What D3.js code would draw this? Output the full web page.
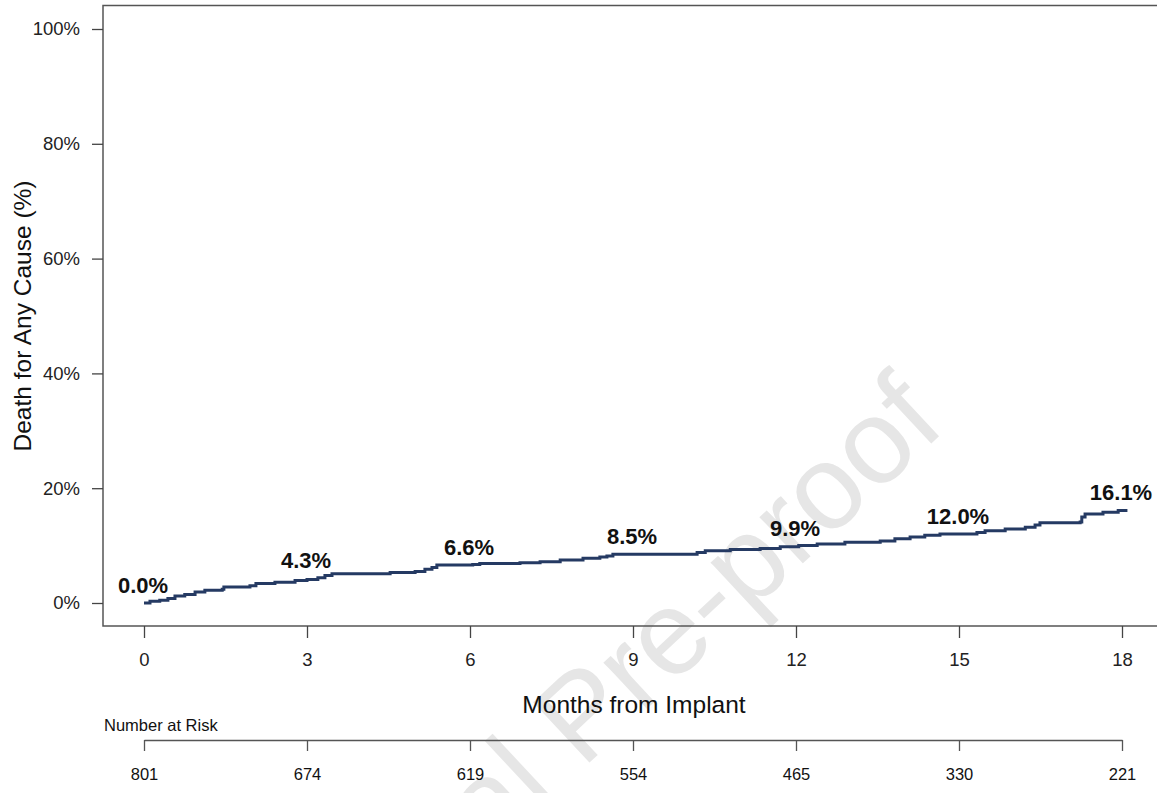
<!DOCTYPE html>
<html lang="en">
<head>
<meta charset="UTF-8">
<title>Death for Any Cause</title>
<script src="https://d3js.org/d3.v7.min.js"></script>
<style>
  body { margin: 0; background: #fff; }
  text { font-family: "Liberation Sans", Arial, sans-serif; }
</style>
</head>
<body>
<script>
// step curve (months, cumulative %)
var stepMonths = [0, 0.11, 0.29, 0.44, 0.57, 0.75, 0.94, 1.12, 1.44, 1.47, 1.95, 2.06, 2.41, 2.78, 3.0, 3.2, 3.33, 3.46,
  4.53, 4.99, 5.17, 5.3, 5.39, 6.05, 6.18, 6.92, 7.29, 7.66, 8.08, 8.39, 8.52, 8.63, 10.18, 10.33, 10.79, 11.34, 11.71,
  12.05, 12.39, 12.9, 13.55, 13.82, 14.1, 14.37, 14.65, 15.33, 15.48, 15.85, 16.22, 16.4, 16.49, 17.23, 17.26, 17.32,
  17.65, 17.93, 18.1];
var stepValues = [0, 0.3, 0.5, 0.8, 1.2, 1.5, 1.9, 2.2, 2.4, 2.8, 3.0, 3.4, 3.6, 3.9, 4.1, 4.4, 4.8, 5.1,
  5.3, 5.5, 5.9, 6.2, 6.6, 6.7, 6.9, 7.0, 7.2, 7.5, 7.8, 8.0, 8.2, 8.5, 8.8, 9.1, 9.3, 9.5, 9.8,
  10.0, 10.3, 10.6, 10.8, 11.2, 11.5, 11.8, 12.0, 12.3, 12.6, 12.9, 13.2, 13.6, 14.0, 14.1, 15.0, 15.5,
  15.8, 16.1, 16.1];

var labelMonths = [0, 3, 6, 9, 12, 15, 18];
var labelValues = [0.0, 4.3, 6.6, 8.5, 9.9, 12.0, 16.1];

var xTicks = [0, 3, 6, 9, 12, 15, 18];
var yTicks = [0, 20, 40, 60, 80, 100];

var riskMonths = [0, 3, 6, 9, 12, 15, 18];
var riskCounts = [801, 674, 619, 554, 465, 330, 221];

var W = 1157, H = 793;
var svg = d3.select("body").append("svg").attr("width", W).attr("height", H);

var x = d3.scaleLinear().domain([0, 18]).range([144, 1122]);
var y = d3.scaleLinear().domain([0, 100]).range([603, 29]);

// watermark
svg.append("text")
  .attr("transform", "translate(948,428) rotate(-43)")
  .attr("text-anchor", "end")
  .attr("font-size", 120)
  .style("fill", "#e6e6e6")
  .text("Journal Pre-proof");

// plot box (right edge runs off the picture)
svg.append("rect")
  .attr("x", 103).attr("y", 5.5)
  .attr("width", 1080).attr("height", 620.5)
  .style("fill", "none").style("stroke", "#555").style("stroke-width", 1.5);

// y axis
var yAxis = svg.append("g").attr("transform", "translate(103,0)")
  .call(d3.axisLeft(y).tickValues(yTicks).tickSize(11).tickPadding(12).tickFormat(function(d){ return d + "%"; }));
yAxis.select(".domain").remove();
yAxis.selectAll("line").style("stroke", "#444").style("stroke-width", 1.3);
yAxis.selectAll("text").attr("font-size", 18.5).style("fill", "#222").style("font-family", "'Liberation Sans', Arial, sans-serif");

// x axis
var xAxis = svg.append("g").attr("transform", "translate(0,626)")
  .call(d3.axisBottom(x).tickValues(xTicks).tickSize(12).tickPadding(15));
xAxis.select(".domain").remove();
xAxis.selectAll("line").style("stroke", "#444").style("stroke-width", 1.3);
xAxis.selectAll("text").attr("font-size", 18.5).style("fill", "#222").style("font-family", "'Liberation Sans', Arial, sans-serif");

// axis titles
svg.append("text")
  .attr("transform", "translate(31,316) rotate(-90)")
  .attr("text-anchor", "middle")
  .attr("font-size", 24.5)
  .style("fill", "#111")
  .text("Death for Any Cause (%)");

svg.append("text")
  .attr("x", 634).attr("y", 713)
  .attr("text-anchor", "middle")
  .attr("font-size", 24.5)
  .style("fill", "#111")
  .text("Months from Implant");

// curve
var pts = stepMonths.map(function(m, i){ return [m, stepValues[i]]; });
var line = d3.line()
  .x(function(d){ return x(d[0]); })
  .y(function(d){ return y(d[1]); })
  .curve(d3.curveStepAfter);
svg.append("path")
  .datum(pts)
  .attr("d", line)
  .style("fill", "none")
  .style("stroke", "#253a63")
  .style("stroke-width", 3);

// value labels
svg.selectAll(".vlab").data(labelMonths).enter()
  .append("text")
  .attr("class", "vlab")
  .attr("x", function(d){ return x(d) - 1; })
  .attr("y", function(d, i){ return y(labelValues[i]) - 10.5; })
  .attr("text-anchor", "middle")
  .attr("font-size", 22)
  .attr("font-weight", "bold")
  .style("fill", "#111")
  .text(function(d, i){ return labelValues[i].toFixed(1) + "%"; });

// number at risk
svg.append("text")
  .attr("x", 104).attr("y", 731)
  .attr("font-size", 16.5)
  .style("fill", "#111")
  .text("Number at Risk");

var rAxis = svg.append("g").attr("transform", "translate(0,740)")
  .call(d3.axisBottom(x).tickValues(riskMonths).tickSize(11).tickSizeOuter(0).tickPadding(17)
    .tickFormat(function(d, i){ return riskCounts[i]; }));
rAxis.select(".domain").style("stroke", "#555").style("stroke-width", 1.5);
rAxis.selectAll("line").style("stroke", "#555").style("stroke-width", 1.3);
rAxis.selectAll("text").attr("font-size", 16.5).style("fill", "#111").style("font-family", "'Liberation Sans', Arial, sans-serif");
</script>
</body>
</html>
